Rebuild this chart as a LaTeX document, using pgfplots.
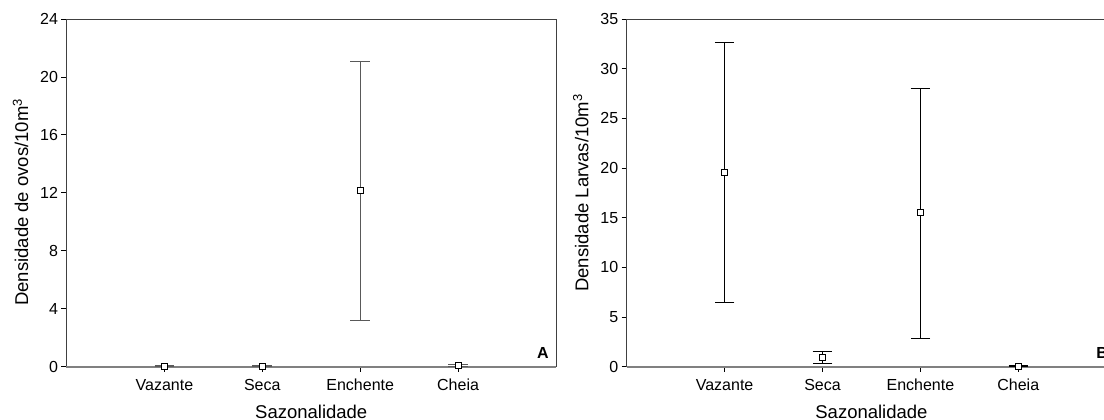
\documentclass[border=0pt]{standalone}
\usepackage{fontspec}
\setmainfont{Liberation Sans}
\usepackage{pgfplots}
\pgfplotsset{compat=1.18}
\pgfplotsset{
 myax/.style={
  scale only axis, width=489.5pt, height=347.7pt,
  anchor=south west,
  xmin=0, xmax=5, ymin=0,
  xtick={1,2,3,4}, xticklabels={Vazante,Seca,Enchente,Cheia},
  tick align=outside, xtick pos=bottom, ytick pos=left,
  major tick length=5pt,
  tick style={black, line width=0.8pt},
  axis line style={black!75, line width=0.9pt},
  tick label style={font=\fontsize{16}{18}\selectfont},
  xticklabel style={yshift=-4pt},
  label style={font=\fontsize{18.5}{21}\selectfont},
  xlabel style={yshift=-7pt},
  /pgf/number format/assume math mode=true,
  xlabel={Sazonalidade},
  clip=false,
 },
 myplot/.style={only marks, mark=square*, mark size=3pt,
  mark options={fill=white, draw=black, line width=0.7pt},
  error bars/.cd, y dir=both, y explicit,
  error bar style={#1},
  error mark options={rotate=90, mark size=9.8pt, line width=0.9pt},
 }
}
\begin{document}
\begin{tikzpicture}
\path[use as bounding box] (0pt,0pt) rectangle (1104pt,420pt);
\clip (0pt,0pt) rectangle (1104pt,420pt);
\begin{axis}[myax, at={(66.5pt,53.3pt)}, ymax=24, ytick={0,4,...,24},
  ylabel={Densidade de ovos/10m\textsuperscript{3}},
  ylabel style={at={(ticklabel cs:0.473)}, yshift=5pt}]
\draw[gray, line width=2pt] (rel axis cs:0,0) -- (rel axis cs:1,0);
\addplot+[myplot={black!65, line width=1pt}] coordinates {
 (1,0.05) +- (0,0.04)
 (2,0.04) +- (0,0.04)
 (3,12.2) += (0,8.9) -= (0,9.0)
 (4,0.1) +- (0,0.08)
};
\node[font=\fontsize{16}{18}\selectfont\bfseries, anchor=base east, inner sep=0pt] at (rel axis cs:0.9857,0.024) {A};
\end{axis}
\begin{axis}[myax, at={(626.7pt,53.3pt)}, ymax=35, ytick={0,5,...,35},
  ylabel={Densidade Larvas/10m\textsuperscript{3}},
  ylabel style={yshift=5pt}]
\draw[gray, line width=2pt] (rel axis cs:0,0) -- (rel axis cs:1,0);
\addplot+[myplot={black, line width=0.9pt}] coordinates {
 (1,19.6) += (0,13.05) -= (0,13.1)
 (2,0.97) += (0,0.54) -= (0,0.62)
 (3,15.5) += (0,12.55) -= (0,12.65)
 (4,0.05) +- (0,0.04)
};
\node[font=\fontsize{16}{18}\selectfont\bfseries, anchor=base west, inner sep=0pt] at (rel axis cs:0.959,0.024) {B};
\end{axis}
\end{tikzpicture}
\end{document}
